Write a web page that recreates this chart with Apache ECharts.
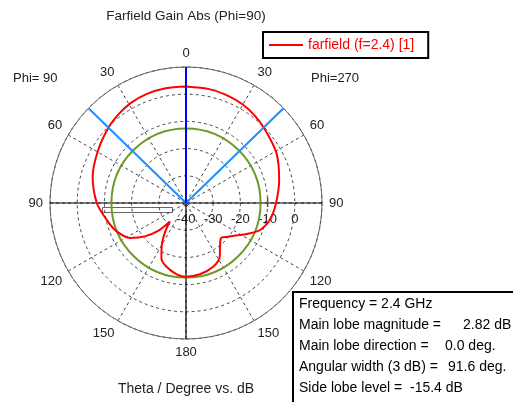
<!DOCTYPE html>
<html>
<head>
<meta charset="utf-8">
<script src="https://cdn.jsdelivr.net/npm/echarts@6/dist/echarts.min.js"></script>
<style>
  html, body { margin: 0; padding: 0; background: #fff; }
  #chart { width: 513px; height: 402px; }
</style>
</head>
<body>
<div id="chart"></div>
<script>
// angle clockwise from top: 0..180 is the Phi=270 side, 180..360 the Phi=90 side
const angles = [0, 12, 22, 30, 38, 46, 61, 76, 90, 101, 110, 117, 123, 130, 135, 141, 148, 157, 169, 180,
  187, 197, 204, 210, 216, 221, 225, 231, 238, 248, 258, 270, 286, 301, 314, 323, 331, 340, 350, 360];
const gain = [2.82, 2.7, 2.3, 1.8, 0.9, -0.2, -2.0, -4.7, -6.9, -8.5, -11.0, -14.9, -18.1, -20.6, -21.8, -20.1, -16.6, -14.5, -13.3, -12.9,
  -13.5, -15.5, -17.8, -22.2, -27.0, -31.0, -25.5, -20.5, -15.8, -12.4, -10.2, -7.2, -4.3, -2.3, -0.3, 1.0, 2.0, 2.6, 2.8, 2.82];
const dbTicks = [-40, -30, -20, -10, 0, 10];

const freq = 2.4;
const mainLobeMag = 2.82;
const mainLobeDir = 0.0;
const angularWidth = 91.6;
const sideLobeLevel = -15.4;

const FONT = 'Liberation Sans';
const CX = 186, CY = 203, R = 136;
const seriesName = 'farfield (f=' + freq + ') [1]';

let chart = echarts.init(document.getElementById('chart'));
let option = {
  animation: false,
  textStyle: { fontFamily: FONT },
  legend: {
    data: [{ name: seriesName, icon: 'rect' }],
    left: 263, top: 32,
    padding: [6, 14, 6, 6],
    borderColor: '#000', borderWidth: 2,
    itemWidth: 34, itemHeight: 2,
    textStyle: { color: '#ff0000', fontSize: 14, fontFamily: FONT }
  },
  polar: { center: [CX, CY], radius: R },
  angleAxis: {
    type: 'value', min: 0, max: 360, interval: 30,
    startAngle: 90, clockwise: true,
    axisLine: { lineStyle: { color: '#666', width: 1 } },
    axisTick: { show: false },
    axisLabel: {
      margin: 7, color: '#222', fontSize: 13, fontFamily: FONT,
      formatter: v => v === 360 ? '' : String(v <= 180 ? v : 360 - v)
    },
    splitLine: { lineStyle: { color: '#444', type: [3, 3] } }
  },
  radiusAxis: {
    type: 'value', min: dbTicks[0], max: dbTicks[dbTicks.length - 1], interval: 10,
    axisLine: { show: false }, axisTick: { show: false }, axisLabel: { show: false },
    splitLine: { lineStyle: { color: '#444', type: [3, 3] } }
  },
  // flat grid only used to print the dB labels along the horizontal axis
  grid: { left: CX, top: CY - 10, width: R, height: 10, show: false },
  xAxis: {
    type: 'value', min: dbTicks[0], max: dbTicks[dbTicks.length - 1], interval: 10,
    axisLine: { show: false }, axisTick: { show: false }, splitLine: { show: false },
    axisLabel: { margin: 10, color: '#222', fontSize: 13, fontFamily: FONT,
      formatter: v => v >= 10 ? '' : String(v) }
  },
  yAxis: { type: 'value', show: false },
  series: [
    {
      type: 'line', coordinateSystem: 'polar', symbol: 'none', silent: true,
      lineStyle: { color: '#000', width: 1.2 },
      data: [[10, 270], [10, 90]], z: 2
    },
    {
      type: 'line', coordinateSystem: 'polar', symbol: 'none', silent: true,
      lineStyle: { color: '#000', width: 1.2 },
      data: [[-40, 180], [10, 180]], z: 2
    },
    {
      // side lobe level ring
      type: 'custom', coordinateSystem: 'polar', silent: true, z: 3,
      data: [[mainLobeMag + sideLobeLevel, 0]],
      renderItem: (params, api) => {
        let c = api.coord([-40, 0]);
        let p = api.coord([api.value(0), 0]);
        return {
          type: 'circle',
          shape: { cx: c[0], cy: c[1], r: Math.hypot(p[0] - c[0], p[1] - c[1]) },
          style: { fill: 'none', stroke: '#6f9a2a', lineWidth: 2 }
        };
      }
    },
    {
      name: seriesName,
      type: 'line', coordinateSystem: 'polar', symbol: 'none', smooth: 0.3,
      lineStyle: { color: '#ff0000', width: 2 },
      itemStyle: { color: '#ff0000' },
      data: angles.map((a, i) => [gain[i], a]), z: 4
    },
    {
      type: 'line', coordinateSystem: 'polar', symbol: 'none', silent: true,
      lineStyle: { color: '#1e8fff', width: 2 },
      data: [[10, 360 - angularWidth / 2], [-40, 0], [10, angularWidth / 2]], z: 5
    },
    {
      type: 'line', coordinateSystem: 'polar', symbol: 'none', silent: true,
      lineStyle: { color: '#0000ff', width: 2 },
      data: [[-40, mainLobeDir], [10, mainLobeDir]], z: 6
    }
  ],
  graphic: [
    { type: 'text', x: 186, y: 16, style: { text: 'Farfield Gain Abs (Phi=90)', font: '13.5px ' + FONT, fill: '#222', align: 'center', verticalAlign: 'middle' } },
    { type: 'text', x: 13, y: 78, style: { text: 'Phi= 90', font: '13px ' + FONT, fill: '#222', verticalAlign: 'middle' } },
    { type: 'text', x: 311, y: 78, style: { text: 'Phi=270', font: '13px ' + FONT, fill: '#222', verticalAlign: 'middle' } },
    { type: 'text', x: 186, y: 389, style: { text: 'Theta / Degree vs. dB', font: '14px ' + FONT, fill: '#222', align: 'center', verticalAlign: 'middle' } },
    // small sash marker at the left of the horizontal axis
    { type: 'rect', shape: { x: 102.5, y: 207.5, width: 70, height: 5 }, style: { fill: 'none', stroke: '#666', lineWidth: 1 } },
    // info box
    { type: 'rect', shape: { x: 293, y: 292, width: 240, height: 130 }, style: { fill: '#fff', stroke: '#000', lineWidth: 2 }, z: 10 },
    { type: 'text', x: 299, y: 304, z: 11, style: { text: 'Frequency = ' + freq + ' GHz', font: '14px ' + FONT, fill: '#000', verticalAlign: 'middle' } },
    { type: 'text', x: 299, y: 325, z: 11, style: { text: 'Main lobe magnitude =', font: '14px ' + FONT, fill: '#000', verticalAlign: 'middle' } },
    { type: 'text', x: 463, y: 325, z: 11, style: { text: mainLobeMag.toFixed(2) + ' dB', font: '14px ' + FONT, fill: '#000', verticalAlign: 'middle' } },
    { type: 'text', x: 299, y: 346, z: 11, style: { text: 'Main lobe direction =', font: '14px ' + FONT, fill: '#000', verticalAlign: 'middle' } },
    { type: 'text', x: 445, y: 346, z: 11, style: { text: mainLobeDir.toFixed(1) + ' deg.', font: '14px ' + FONT, fill: '#000', verticalAlign: 'middle' } },
    { type: 'text', x: 299, y: 367, z: 11, style: { text: 'Angular width (3 dB) =', font: '14px ' + FONT, fill: '#000', verticalAlign: 'middle' } },
    { type: 'text', x: 448, y: 367, z: 11, style: { text: angularWidth.toFixed(1) + ' deg.', font: '14px ' + FONT, fill: '#000', verticalAlign: 'middle' } },
    { type: 'text', x: 299, y: 388, z: 11, style: { text: 'Side lobe level =', font: '14px ' + FONT, fill: '#000', verticalAlign: 'middle' } },
    { type: 'text', x: 410, y: 388, z: 11, style: { text: sideLobeLevel.toFixed(1) + ' dB', font: '14px ' + FONT, fill: '#000', verticalAlign: 'middle' } }
  ]
};
chart.setOption(option);

// short marker on the horizontal axis at the -10 dB ring
let m = chart.convertToPixel({ polarIndex: 0 }, [-10, 90]);
chart.setOption({
  graphic: option.graphic.concat([
    { type: 'line', shape: { x1: m[0], y1: m[1] - 5, x2: m[0], y2: m[1] + 4 }, style: { stroke: '#8b3a3a', lineWidth: 1.5 }, z: 7 }
  ])
});
</script>
</body>
</html>
